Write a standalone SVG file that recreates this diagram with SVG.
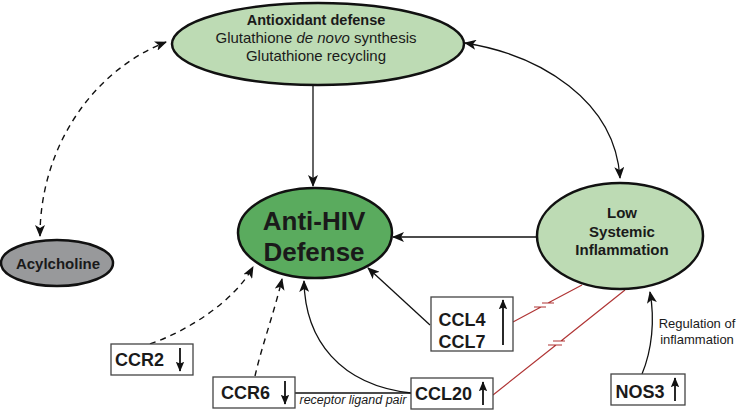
<svg xmlns="http://www.w3.org/2000/svg" width="736" height="411" viewBox="0 0 736 411">
<defs>
<marker id="ah" markerUnits="userSpaceOnUse" markerWidth="12" markerHeight="10" refX="11" refY="5" orient="auto-start-reverse" viewBox="0 0 12 10">
<path d="M0,0 L12,5 L0,10 L3,5 Z" fill="#111"/>
</marker>
<marker id="bh" markerUnits="userSpaceOnUse" markerWidth="10" markerHeight="12" refX="11" refY="5" orient="auto" viewBox="0 0 12 10">
<path d="M0,0 L12,5 L0,10 L2,5 Z" fill="#111"/>
</marker>
<style>
.t{font-family:"Liberation Sans",Arial,sans-serif;fill:#1a1a1a;text-anchor:middle}
.b{font-weight:bold}
.ell{stroke:#111;stroke-width:2.5}
.box{fill:#fff;stroke:#444;stroke-width:1.3}
.c{fill:none;stroke:#111;stroke-width:1.3}
.d{fill:none;stroke:#111;stroke-width:1.4;stroke-dasharray:6 5}
.r{fill:none;stroke:#b03535;stroke-width:1.2}
.ba{stroke:#111;stroke-width:1.8;marker-end:url(#bh)}
</style>
</defs>
<g id="connectors">
<path class="d" d="M40,236 C40,150 90,72 166,42" marker-start="url(#ah)" marker-end="url(#ah)"/>
<path class="c" d="M465,43 C540,55 615,100 620,178" marker-start="url(#ah)" marker-end="url(#ah)"/>
<path class="c" d="M313,85 L313,186" marker-end="url(#ah)"/>
<path class="c" d="M537,237 L393,237" marker-end="url(#ah)"/>
<path class="c" d="M430,325 L368,268" marker-end="url(#ah)"/>
<path class="d" d="M150,344 C190,330 235,300 253,267" marker-end="url(#ah)"/>
<path class="d" d="M255,376 C262,345 275,310 282,279" marker-end="url(#ah)"/>
<path class="c" d="M411,393 C340,385 305,340 304,281" marker-end="url(#ah)"/>
<path class="c" d="M642,374 C652,350 655,320 650,292" marker-end="url(#ah)"/>
<path class="c" d="M295,393 L411,393" stroke="#555"/>
<path class="r" d="M513,322 L541,307 M534,307 L546,307 M548,303 L582,285 M542,303 L554,303"/>
<path class="r" d="M493,395 L556,345 M548,345 L562,345 M561,341 L625,290 M553,341 L565,341"/>
</g>
<g id="antioxidant">
<ellipse class="ell" cx="318" cy="44" rx="146" ry="41" fill="#bddbb4"/>
<text class="t b" x="316" y="25" font-size="14.5">Antioxidant defense</text>
<text class="t" x="316" y="42.5" font-size="15">Glutathione <tspan font-style="italic">de novo</tspan> synthesis</text>
<text class="t" x="316" y="60.5" font-size="15">Glutathione recycling</text>
</g>
<g id="antihiv">
<ellipse class="ell" cx="315" cy="233" rx="77" ry="45" fill="#5aab5e"/>
<text class="t b" x="314" y="230" font-size="26">Anti-HIV</text>
<text class="t b" x="314" y="261" font-size="26">Defense</text>
</g>
<g id="lowinflammation">
<ellipse class="ell" cx="620" cy="236" rx="83" ry="53" fill="#bddbb4"/>
<text class="t b" x="622" y="218" font-size="15">Low</text>
<text class="t b" x="622" y="236.5" font-size="15">Systemic</text>
<text class="t b" x="622" y="255" font-size="15">Inflammation</text>
</g>
<g id="acylcholine">
<ellipse class="ell" cx="57" cy="263" rx="56" ry="23" fill="#98999b"/>
<text class="t b" x="58" y="268.5" font-size="15">Acylcholine</text>
</g>
<g id="ccl4ccl7">
<rect class="box" x="431" y="297" width="82" height="54"/>
<text class="t b" x="462" y="326" font-size="18">CCL4</text>
<text class="t b" x="462" y="348" font-size="18">CCL7</text>
<line class="ba" x1="503" y1="345" x2="503" y2="300"/>
</g>
<g id="ccr2">
<rect class="box" x="111" y="344" width="82" height="31"/>
<text class="t b" x="139.5" y="366" font-size="18">CCR2</text>
<line class="ba" x1="180" y1="348" x2="180" y2="371"/>
</g>
<g id="ccr6">
<rect class="box" x="213" y="377" width="82" height="31"/>
<text class="t b" x="245.5" y="399" font-size="18">CCR6</text>
<line class="ba" x1="285" y1="381" x2="285" y2="404"/>
</g>
<g id="ccl20">
<rect class="box" x="411" y="378" width="82" height="31"/>
<text class="t b" x="443.5" y="400" font-size="18">CCL20</text>
<line class="ba" x1="483" y1="405" x2="483" y2="382"/>
</g>
<g id="nos3">
<rect class="box" x="611" y="374" width="74" height="31"/>
<text class="t b" x="640" y="398" font-size="18">NOS3</text>
<line class="ba" x1="675" y1="401" x2="675" y2="378"/>
</g>
<g id="labels">
<text class="t" x="353" y="404" font-size="12.5" font-style="italic">receptor ligand pair</text>
<text class="t" x="697" y="328" font-size="13">Regulation of</text>
<text class="t" x="697" y="344" font-size="13">inflammation</text>
</g>
</svg>
